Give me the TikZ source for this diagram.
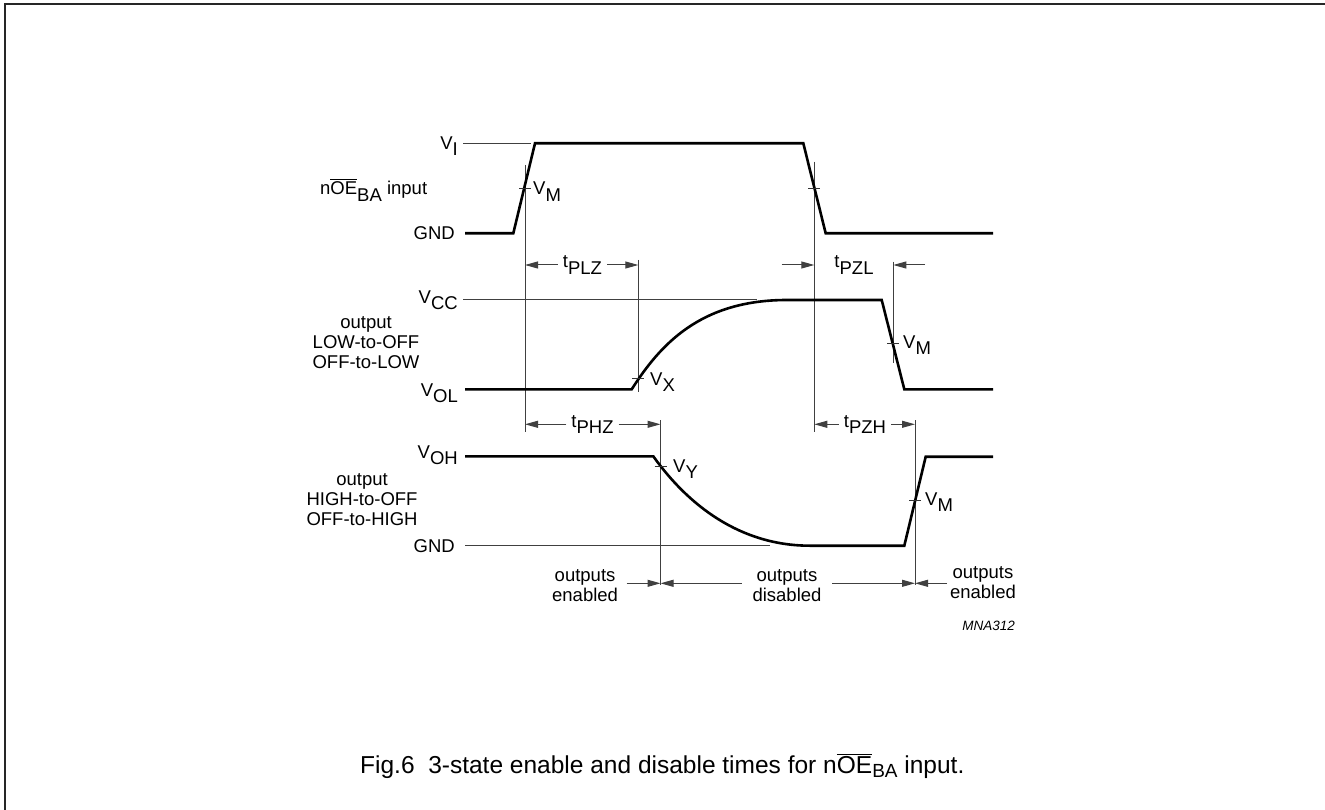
\documentclass[tikz,border=0pt]{standalone}
\usepackage{fontspec}
\setmainfont{Liberation Sans}
\usetikzlibrary{arrows.meta}
\newcommand\lowsub[1]{\lower 6.5pt\hbox{#1}}
\newcommand\ovlbox[1]{\vbox{\hrule height 1pt\kern 1.6pt\hbox{#1}}}
\begin{document}
\begin{tikzpicture}[x=1pt,y=-1pt,
  sig/.style={line width=2.6pt, line join=miter},
  refl/.style={line width=1pt, draw=black!75},
  dimarr/.style={refl, -{Triangle[length=13pt,width=7pt]}},
  tk/.style={line width=1pt, draw=black!80},
  lbl/.style={font=\fontsize{18.5}{20}\selectfont, inner sep=0pt, align=center},
  tlbl/.style={lbl, outer xsep=5pt}]
\useasboundingbox (0,0) rectangle (1325,810);
% frame
\draw[line width=2pt, black!85] (5,810) -- (5,4) -- (1325,4);

% vertical reference lines
\coordinate (a1) at (525,165);   \coordinate (a2) at (525,431.7);
\coordinate (b1) at (814.3,161.7); \coordinate (b2) at (814.3,431.7);
\coordinate (c1) at (638.3,260); \coordinate (c2) at (638.3,391.7);
\coordinate (d1) at (893.3,261.7); \coordinate (d2) at (893.3,363.3);
\coordinate (e1) at (660.5,420); \coordinate (e2) at (660.5,585);
\coordinate (f1) at (915,420);   \coordinate (f2) at (915,585);
\foreach \p in {a,b,c,d,e,f} \draw[refl] (\p1) -- (\p2);

% horizontal level reference lines
\draw[refl] (463,143.3) -- (531,143.3);
\draw[refl] (463,300) -- (757,300);
\draw[refl] (465,545.7) -- (770,545.7);

% signals
\draw[sig] (465,233.3) -- (513.3,233.3) -- (535,143.3) -- (803.3,143.3) -- (825.7,233.3) -- (993,233.3);
\draw[sig] (465,389.3) -- (631.7,389.3) .. controls (660,345) and (700,300) .. (787,300) -- (881.7,300) -- (904.3,389.3) -- (993,389.3);
\draw[sig] (465,456.3) -- (653.3,456.3) .. controls (688,505) and (740,545.7) .. (810,545.7) -- (904.3,545.7) -- (925.7,456.7) -- (993,456.7);

% ticks
\foreach \x/\y in {525/188.3, 814.3/188.3, 638.3/378.3, 893.3/343.3, 660.5/466.7, 915/500.7}
  \draw[tk] (\x-6,\y) -- (\x+6,\y);

% level labels
\node[lbl, anchor=east] (vi)   at (458,146)   {V\lowsub{I}};
\node[lbl, anchor=east] (gnd1) at (455,233.3) {GND};
\node[lbl, anchor=east] (vcc)  at (458,300)   {V\lowsub{CC}};
\node[lbl, anchor=east] (vol)  at (458,393)   {V\lowsub{OL}};
\node[lbl, anchor=east] (voh)  at (458,455)   {V\lowsub{OH}};
\node[lbl, anchor=east] (gnd2) at (455,545.7) {GND};

% signal names
\node[lbl, anchor=west] (inp) at (320,190) {n\ovlbox{OE}\lowsub{BA} input};
\node[lbl] (out1) at (366,343) {output\\LOW-to-OFF\\OFF-to-LOW};
\node[lbl] (out2) at (362,500) {output\\HIGH-to-OFF\\OFF-to-HIGH};

% threshold labels
\node[lbl, anchor=west] (vm1) at (533,191.5) {V\lowsub{M}};
\node[lbl, anchor=west] (vm2) at (903,345)   {V\lowsub{M}};
\node[lbl, anchor=west] (vm3) at (925,502)   {V\lowsub{M}};
\node[lbl, anchor=west] (vx)  at (650,382)   {V\lowsub{X}};
\node[lbl, anchor=west] (vy)  at (673,469)   {V\lowsub{Y}};

% timing labels and arrows
\node[tlbl] (tplz) at (582.5,265)   {t\lowsub{PLZ}};
\node[tlbl] (tpzl) at (854,265)     {t\lowsub{PZL}};
\node[tlbl] (tphz) at (592.5,424.3) {t\lowsub{PHZ}};
\node[tlbl] (tpzh) at (865,424.3)   {t\lowsub{PZH}};
\draw[dimarr] (tplz.west) -- (tplz.west -| a1);
\draw[dimarr] (tplz.east) -- (tplz.east -| c1);
\coordinate (pzlL) at (781.7,265);
\coordinate (pzlR) at (925,265);
\draw[dimarr] (pzlL) -- (pzlL -| b1);
\draw[dimarr] (pzlR) -- (pzlR -| d1);
\draw[dimarr] (tphz.west) -- (tphz.west -| a1);
\draw[dimarr] (tphz.east) -- (tphz.east -| e1);
\draw[dimarr] (tpzh.west) -- (tpzh.west -| b1);
\draw[dimarr] (tpzh.east) -- (tpzh.east -| f1);

% output state labels
\node[lbl, anchor=east, outer xsep=8.7pt] (oen1) at (626.7,586) {outputs\\enabled};
\node[lbl, outer xsep=11pt] (odis) at (787,586) {outputs\\disabled};
\node[lbl, anchor=west, outer xsep=3pt] (oen2) at (947,583) {outputs\\enabled};
\coordinate (row) at (0,583.3);
\draw[dimarr] (oen1.east |- row) -- (e1 |- row);
\draw[dimarr] (odis.west |- row) -- (e1 |- row);
\draw[dimarr] (odis.east |- row) -- (f1 |- row);
\draw[dimarr] (oen2.west |- row) -- (f1 |- row);

\node[anchor=east, inner sep=0pt, font=\fontsize{13.5}{15}\selectfont\itshape] (code) at (1015,626) {MNA312};

% caption
\node[anchor=west, inner sep=0pt, font=\fontsize{24.5}{26}\selectfont] (cap) at (360,766)
  {Fig.6\ \ 3-state enable and disable times for n\ovlbox{OE}\lower 4pt\hbox{\fontsize{19}{20}\selectfont BA} input.};
\end{tikzpicture}
\end{document}
